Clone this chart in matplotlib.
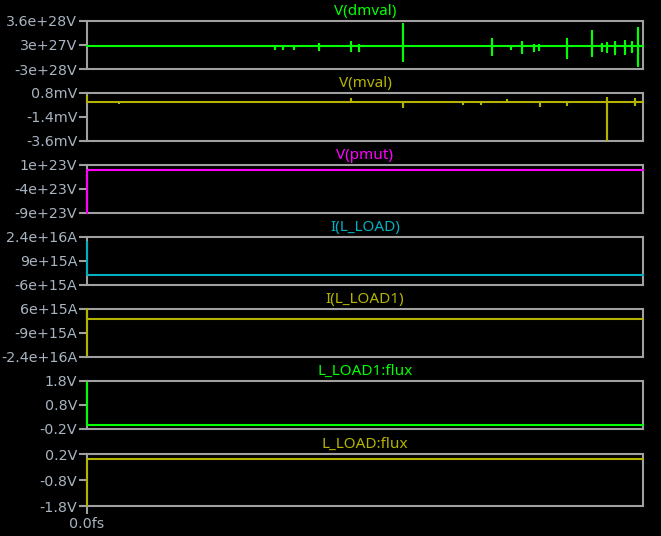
import matplotlib
matplotlib.use("Agg")
import matplotlib.pyplot as plt

# ---- DATA ----
# time axis is normalised 0..1 (only the 0.0fs tick is labelled)
dmval_base = 1.5e27
dmval_t = [0.338, 0.353, 0.372, 0.417, 0.475, 0.489, 0.568, 0.728, 0.763, 0.783,
           0.804, 0.813, 0.863, 0.908, 0.926, 0.935, 0.950, 0.968, 0.980, 0.991]
dmval_hi = [1.5, 1.5, 1.5, 4.0, 7.1, 3.4, 31.9, 11.3, 1.5, 7.1,
            3.4, 3.4, 11.3, 22.3, 4.8, 6.2, 7.1, 8.5, 7.1, 26.4]     # e27 V
dmval_lo = [-2.9, -2.9, -2.9, -3.5, -5.3, -5.3, -19.0, -10.8, -2.9, -8.0,
            -5.3, -3.5, -14.9, -12.1, -5.3, -6.2, -9.0, -9.0, -6.6, -25.9]

mval_start = 0.55e-3
mval_t = [0.058, 0.475, 0.568, 0.676, 0.709, 0.755, 0.815, 0.863, 0.935, 0.986]
mval_hi = [0, 0.22, 0, 0, 0, 0.18, 0, 0, 0.34, 0.22]               # mV
mval_lo = [-0.12, 0, -0.46, -0.24, -0.24, 0, -0.39, -0.30, -3.55, -0.30]

pmut_start, pmut_end = -9e23, 0.0
iload_start, iload_end = 2.07e16, 0.0
iload1_start, iload1_peak, iload1_end = -2.3e16, 6e15, 0.0
flux1_start, flux1_end = 1.73, -0.02
flux_start, flux_end = -1.78, 0.02

titles = ["V(dmval)", "V(mval)", "V(pmut)", "I(L_LOAD)", "I(L_LOAD1)",
          "L_LOAD1:flux", "L_LOAD:flux"]
ylims = [(-3e28, 3.6e28), (-3.6e-3, 0.8e-3), (-9e23, 1e23), (-6e15, 2.4e16),
         (-2.4e16, 6e15), (-0.2, 1.8), (-1.8, 0.2)]
ytick_labels = [["-3e+28V", "3e+27V", "3.6e+28V"],
                ["-3.6mV", "-1.4mV", "0.8mV"],
                ["-9e+23V", "-4e+23V", "1e+23V"],
                ["-6e+15A", "9e+15A", "2.4e+16A"],
                ["-2.4e+16A", "-9e+15A", "6e+15A"],
                ["-0.2V", "0.8V", "1.8V"],
                ["-1.8V", "-0.8V", "0.2V"]]
colors = ["#00ff00", "#b4b400", "#ff00ff", "#00b0c0", "#b4b400", "#00ff00", "#b4b400"]

# ---- STYLE ----
FRAME = "#a0a0a0"
LABEL = "#a8b4c0"
TICK_FONT = {"family": "DejaVu Sans", "size": 10.3}
W, H = 661, 536
tops = [21, 93, 165, 237, 309, 381, 454]
heights = [48, 48, 48, 48, 48, 48, 52]
left, right = 87, 643


def spike_trace(t, hi, lo, base, scale):
    xs, ys = [0.0], [base]
    for ti, h, l in zip(t, hi, lo):
        xs += [ti, ti, ti, ti]
        ys += [base, h * scale, l * scale, base]
    xs.append(1.0)
    ys.append(base)
    return xs, ys


traces = [
    spike_trace(dmval_t, dmval_hi, dmval_lo, dmval_base, 1e27),
    None,
    ([0, 0, 1], [pmut_start, pmut_end, pmut_end]),
    ([0, 0, 1], [iload_start, iload_end, iload_end]),
    ([0, 0, 0, 1], [iload1_start, iload1_peak, iload1_end, iload1_end]),
    ([0, 0, 1], [flux1_start, flux1_end, flux1_end]),
    ([0, 0, 1], [flux_start, flux_end, flux_end]),
]
mx, my = spike_trace(mval_t, mval_hi, mval_lo, 0.0, 1e-3)
traces[1] = ([0] + mx, [mval_start] + my)

fig = plt.figure(figsize=(W / 100, H / 100), dpi=100, facecolor="black")

for i in range(7):
    top, h = tops[i], heights[i]
    ax = fig.add_axes([left / W, 1 - (top + h) / H, (right - left) / W, h / H])
    ax.set_facecolor("black")
    xs, ys = traces[i]
    ax.plot(xs, ys, color=colors[i], lw=1.5, clip_on=False, zorder=3)
    ax.set_xlim(0, 1)
    lo, hi = ylims[i]
    ax.set_ylim(lo, hi)
    ax.set_yticks([lo, (lo + hi) / 2, hi])
    ax.set_yticklabels(ytick_labels[i], fontdict=TICK_FONT)
    for s in ax.spines.values():
        s.set_color(FRAME)
        s.set_linewidth(1.5)
    ax.tick_params(axis="y", colors=FRAME, labelcolor=LABEL, length=6,
                   width=1.5, pad=1)
    if i == 6:
        ax.set_xticks([0])
        ax.set_xticklabels(["0.0fs"], fontdict=TICK_FONT)
        ax.tick_params(axis="x", colors=FRAME, labelcolor=LABEL, length=6,
                       width=1.5, pad=2)
    else:
        ax.set_xticks([])
    ax.annotate(titles[i], xy=(0.5, 1.0), xycoords="axes fraction",
                xytext=(0, 4.5), textcoords="offset points", ha="center",
                va="baseline", color=colors[i], family="Noto Sans", fontsize=11)

fig.savefig("out.png", dpi=100, facecolor="black")
